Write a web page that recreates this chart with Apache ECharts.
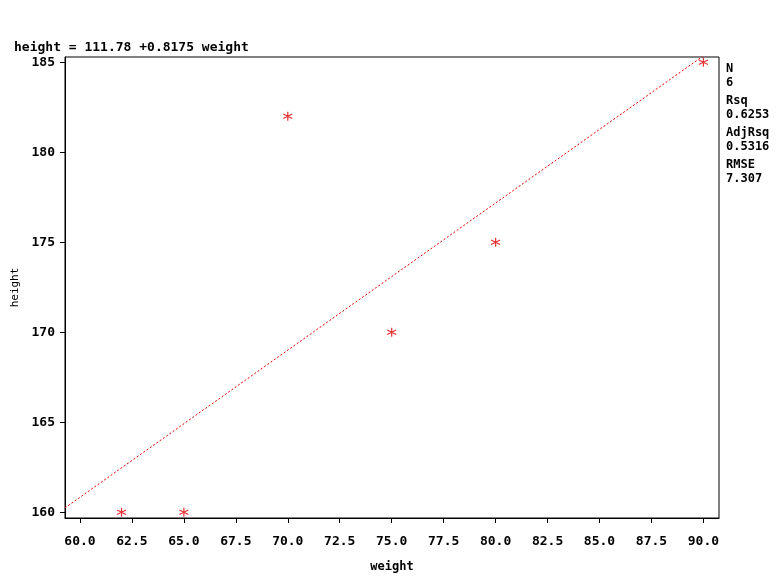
<!DOCTYPE html>
<html><head><meta charset="utf-8">
<script src="https://cdn.jsdelivr.net/npm/echarts@6/dist/echarts.min.js"></script>
<style>html,body{margin:0;padding:0;background:#fff}#c{width:784px;height:585px}</style>
</head><body><div id="c"></div>
<script>
const weight = [62, 65, 70, 75, 80, 90];
const height = [160, 160, 182, 170, 175, 185];
const intercept = 111.78;
const slope = 0.8175;
const xTicks = [60, 62.5, 65, 67.5, 70, 72.5, 75, 77.5, 80, 82.5, 85, 87.5, 90];
const yTicks = [160, 165, 170, 175, 180, 185];
const statLabels = ['N', 'Rsq', 'AdjRsq', 'RMSE'];
const statValues = ['6', '0.6253', '0.5316', '7.307'];
const xMin = 59.28, xMax = 90.75, yMin = 159.68, yMax = 185.29;

const mono = '"DejaVu Sans Mono", "Liberation Mono", monospace';
const pts = weight.map((w, i) => [w, height[i]]);
const fit = [[xMin, intercept + slope * xMin], [xMax, intercept + slope * xMax]];

const statGraphics = [];
let y = 62;
statLabels.forEach((s, i) => {
  statGraphics.push({type: 'text', left: 726, top: y, style: {text: s + '\n' + statValues[i], font: 'bold 12px ' + mono, fill: '#000', lineHeight: 14}});
  y += 32;
});

const chart = echarts.init(document.getElementById('c'));
chart.setOption({
  animation: false,
  backgroundColor: '#fff',
  title: {text: 'height = 111.78 +0.8175 weight', left: 14, top: 41, padding: 0,
    textStyle: {fontFamily: mono, fontSize: 13, fontWeight: 'bold', color: '#000'}},
  grid: {left: 65, right: 65, top: 57, bottom: 67, show: true, borderColor: '#000', borderWidth: 1, containLabel: false},
  xAxis: {type: 'value', min: xMin, max: xMax,
    name: 'weight', nameLocation: 'middle', nameGap: 43,
    nameTextStyle: {fontFamily: mono, fontSize: 12, fontWeight: 'bold', color: '#000'},
    axisLine: {show: true, onZero: false, lineStyle: {color: '#000'}},
    axisTick: {show: true, length: 5, customValues: xTicks, lineStyle: {color: '#000'}},
    axisLabel: {customValues: xTicks, formatter: v => v.toFixed(1), margin: 17,
      fontFamily: mono, fontSize: 13, fontWeight: 'bold', color: '#000'},
    splitLine: {show: false}},
  yAxis: {type: 'value', min: yMin, max: yMax,
    name: 'height', nameLocation: 'middle', nameGap: 40,
    nameTextStyle: {fontFamily: mono, fontSize: 11, color: '#000'},
    axisLine: {show: true, onZero: false, lineStyle: {color: '#000'}},
    axisTick: {show: true, length: 5, customValues: yTicks, lineStyle: {color: '#000'}},
    axisLabel: {customValues: yTicks, margin: 10,
      fontFamily: mono, fontSize: 13, fontWeight: 'bold', color: '#000'},
    splitLine: {show: false}},
  graphic: statGraphics,
  series: [
    {type: 'line', data: fit, showSymbol: false, symbol: 'none', clip: true, silent: true,
      lineStyle: {color: '#e00000', width: 1, type: [2, 2]}, z: 2},
    {type: 'scatter', data: pts, symbol: 'path://M5,0L5,10M0.7,2.5L9.3,7.5M0.7,7.5L9.3,2.5',
      symbolSize: 9, itemStyle: {color: 'none', borderColor: '#e00000', borderWidth: 1.2}, z: 3}
  ]
});
</script>
</body></html>
